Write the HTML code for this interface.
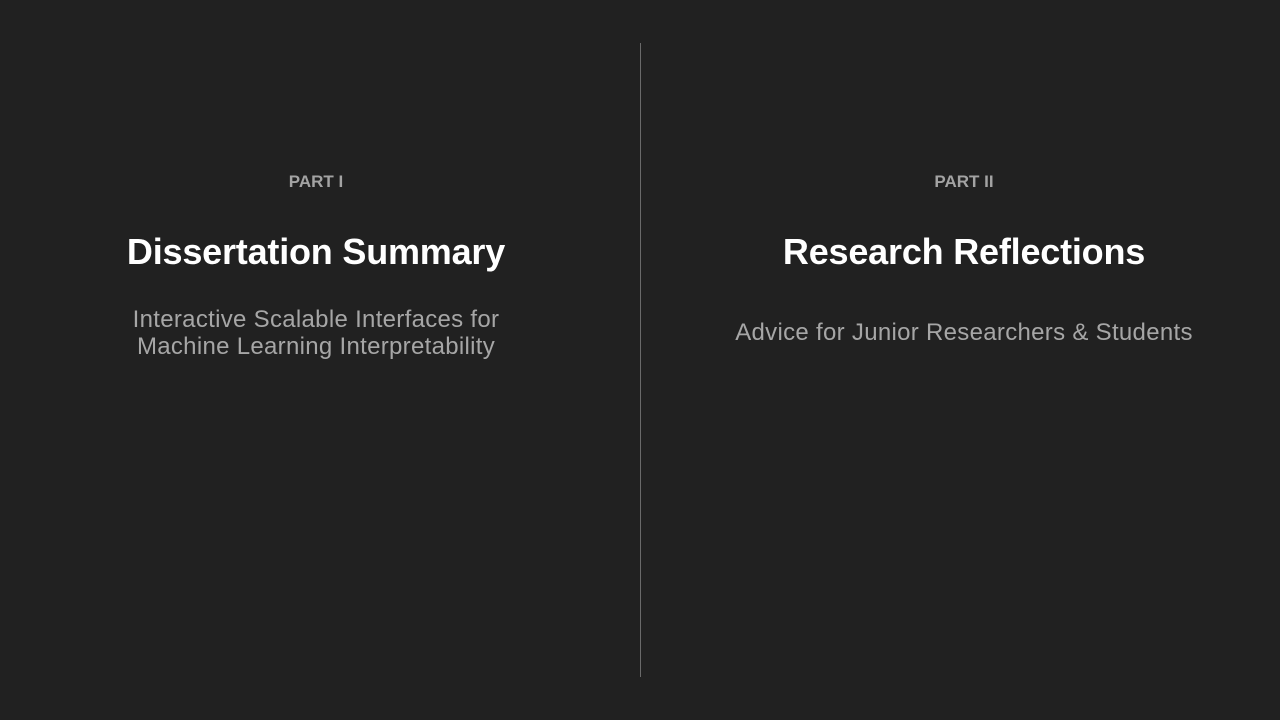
<!DOCTYPE html>
<html><head><meta charset="utf-8"><style>
html,body{margin:0;padding:0;}
body{width:1280px;height:720px;background:#212121;position:relative;overflow:hidden;font-family:"Liberation Sans",sans-serif;}
.col{position:absolute;top:0;width:640px;text-align:center;}
.part{position:absolute;left:0;right:0;top:172px;font-size:17px;font-weight:bold;color:#a3a3a3;}
.title{position:absolute;left:0;right:0;top:230px;font-size:36px;font-weight:bold;color:#fff;letter-spacing:-0.2px;line-height:44px;}
.sub{position:absolute;left:0;right:0;font-size:24px;color:#a6a6a6;line-height:27px;letter-spacing:0.3px;}
.divider{position:absolute;left:640px;top:43px;width:1px;height:634px;background:#6a6a6a;}
</style></head><body>
<div class="col" style="left:-4px">
  <div class="part">PART I</div>
  <div class="title">Dissertation Summary</div>
  <div class="sub" style="top:306px">Interactive Scalable Interfaces for<br>Machine Learning Interpretability</div>
</div>
<div class="divider"></div>
<div class="col" style="left:644px">
  <div class="part">PART II</div>
  <div class="title">Research Reflections</div>
  <div class="sub" style="top:319px">Advice for Junior Researchers &amp; Students</div>
</div>
</body></html>
